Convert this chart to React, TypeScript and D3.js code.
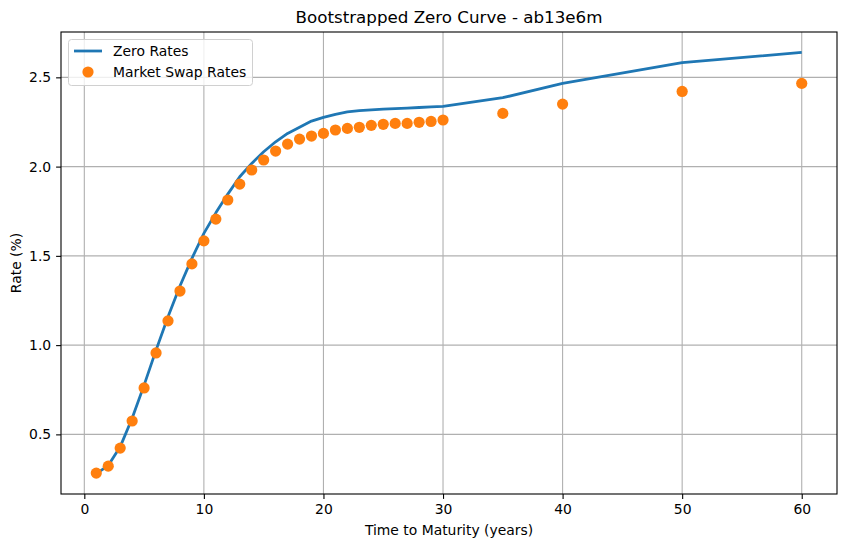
import { useEffect, useRef } from 'react';
import * as d3 from 'd3';

// tenors in years
const tenors = [
  1, 2, 3, 4, 5, 6, 7, 8, 9, 10, 11, 12, 13, 14, 15, 16, 17, 18, 19, 20, 21, 22, 23, 24, 25, 26, 27, 28, 29, 30,
  35, 40, 50, 60,
];
const swapRates = [
  0.283, 0.322, 0.423, 0.575, 0.76, 0.956, 1.136, 1.303, 1.455, 1.584, 1.706, 1.813, 1.902, 1.981, 2.037, 2.087,
  2.126, 2.154, 2.171, 2.186, 2.205, 2.214, 2.22, 2.231, 2.237, 2.242, 2.242, 2.248, 2.253, 2.261, 2.298, 2.35,
  2.421, 2.466,
];
const zeroRates = [
  0.28, 0.325, 0.43, 0.59, 0.776, 0.972, 1.159, 1.331, 1.486, 1.626, 1.741, 1.846, 1.943, 2.018, 2.083, 2.139,
  2.186, 2.22, 2.255, 2.276, 2.293, 2.306, 2.313, 2.318, 2.322, 2.325, 2.328, 2.331, 2.334, 2.337, 2.386, 2.466,
  2.582, 2.64,
];
const xTicks = [0, 10, 20, 30, 40, 50, 60];
const yTicks = [0.5, 1.0, 1.5, 2.0, 2.5];

const W = 846;
const H = 547;
const margin = { left: 61, right: 9, top: 32, bottom: 53 };
const font = 'DejaVu Sans, sans-serif';

export default function App() {
  const ref = useRef<SVGSVGElement>(null);

  useEffect(() => {
    const svg = d3.select(ref.current);
    svg.selectAll('*').remove();

    const x = d3.scaleLinear().domain([-1.95, 62.95]).range([margin.left, W - margin.right]);
    const y = d3.scaleLinear().domain([0.166, 2.754]).range([H - margin.bottom, margin.top]);

    svg.append('rect').attr('width', W).attr('height', H).attr('fill', '#fff');

    // grid
    const grid = svg.append('g').attr('stroke', '#b0b0b0').attr('stroke-width', 1.1);
    xTicks.forEach((t) =>
      grid.append('line').attr('x1', x(t)).attr('x2', x(t)).attr('y1', margin.top).attr('y2', H - margin.bottom)
    );
    yTicks.forEach((t) =>
      grid.append('line').attr('x1', margin.left).attr('x2', W - margin.right).attr('y1', y(t)).attr('y2', y(t))
    );

    // axes
    const xAxis = svg
      .append('g')
      .attr('transform', `translate(0,${H - margin.bottom})`)
      .call(d3.axisBottom(x).tickValues(xTicks).tickSize(4.9).tickPadding(4.9).tickFormat(d3.format('d')));
    const yAxis = svg
      .append('g')
      .attr('transform', `translate(${margin.left},0)`)
      .call(d3.axisLeft(y).tickValues(yTicks).tickSize(4.9).tickPadding(4.9).tickFormat(d3.format('.1f')));
    [xAxis, yAxis].forEach((a) => {
      a.select('.domain').remove();
      a.selectAll('line').attr('stroke', '#000').attr('stroke-width', 1.1);
      a.selectAll('text').attr('font-family', font).attr('font-size', 13.9).attr('fill', '#000');
    });

    const data = tenors.map((t, i) => ({ t, z: zeroRates[i], s: swapRates[i] }));

    const plot = svg.append('g');
    plot
      .append('path')
      .datum(data)
      .attr('fill', 'none')
      .attr('stroke', '#1f77b4')
      .attr('stroke-width', 2.78)
      .attr('stroke-linejoin', 'round')
      .attr(
        'd',
        d3
          .line<{ t: number; z: number }>()
          .x((d) => x(d.t))
          .y((d) => y(d.z))
          .curve(d3.curveLinear)
      );
    plot
      .selectAll('circle')
      .data(data)
      .join('circle')
      .attr('cx', (d) => x(d.t))
      .attr('cy', (d) => y(d.s))
      .attr('r', 5.6)
      .attr('fill', '#ff7f0e');

    // spines
    svg
      .append('rect')
      .attr('x', margin.left)
      .attr('y', margin.top)
      .attr('width', W - margin.left - margin.right)
      .attr('height', H - margin.top - margin.bottom)
      .attr('fill', 'none')
      .attr('stroke', '#000')
      .attr('stroke-width', 1.1);

    // legend
    const lg = svg.append('g');
    lg.append('rect')
      .attr('x', 68.5)
      .attr('y', 39.5)
      .attr('width', 184)
      .attr('height', 46)
      .attr('rx', 3)
      .attr('fill', 'rgba(255,255,255,0.8)')
      .attr('stroke', '#d0d0d0');
    lg.append('line').attr('x1', 74).attr('x2', 102).attr('y1', 51).attr('y2', 51).attr('stroke', '#1f77b4').attr('stroke-width', 2.78);
    lg.append('circle').attr('cx', 88).attr('cy', 72).attr('r', 5.6).attr('fill', '#ff7f0e');
    [
      ['Zero Rates', 56],
      ['Market Swap Rates', 77],
    ].forEach(([t, yy]) =>
      lg
        .append('text')
        .attr('x', 113)
        .attr('y', yy as number)
        .attr('font-family', font)
        .attr('font-size', 13.9)
        .text(t as string)
    );

    // titles
    svg
      .append('text')
      .attr('x', (margin.left + W - margin.right) / 2)
      .attr('y', 23)
      .attr('text-anchor', 'middle')
      .attr('font-family', font)
      .attr('font-size', 16.7)
      .text('Bootstrapped Zero Curve - ab13e6m');
    svg
      .append('text')
      .attr('x', (margin.left + W - margin.right) / 2)
      .attr('y', 535)
      .attr('text-anchor', 'middle')
      .attr('font-family', font)
      .attr('font-size', 13.9)
      .text('Time to Maturity (years)');
    svg
      .append('text')
      .attr('transform', `translate(21,${(margin.top + H - margin.bottom) / 2}) rotate(-90)`)
      .attr('text-anchor', 'middle')
      .attr('font-family', font)
      .attr('font-size', 13.9)
      .text('Rate (%)');
  }, []);

  return <svg ref={ref} width={W} height={H} style={{ position: 'absolute', left: 0, top: 0 }} />;
}
